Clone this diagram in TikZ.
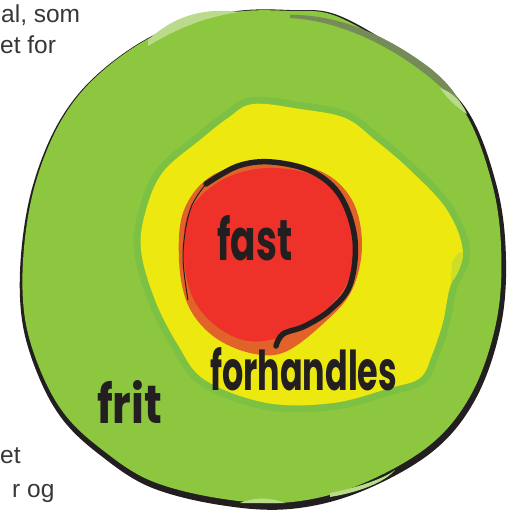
\documentclass[tikz,border=0pt]{standalone}
\usepackage{graphicx}
\usepackage{fontspec}
\setmainfont{Liberation Sans}
\newfontfamily\handfont{Poppins}
\definecolor{grn}{RGB}{141,198,63}
\definecolor{grnhalo}{RGB}{124,193,68}
\definecolor{grnlight}{RGB}{186,219,140}
\definecolor{grngray}{RGB}{118,140,88}
\definecolor{ylw}{RGB}{238,232,17}
\definecolor{ylwgrn}{RGB}{205,222,40}
\definecolor{rd}{RGB}{238,49,41}
\definecolor{orng}{RGB}{226,99,42}
\definecolor{ink}{RGB}{35,31,32}
\definecolor{txt}{RGB}{55,55,55}
\newcommand\outerblob{plot[smooth cycle,tension=0.6] coordinates {(230,12) (290,10) (340,16) (413,60) (467,110) (497,187) (506,260) (500,330) (475,400) (432,452) (360,492) (290,509) (220,505) (150,487) (100,455) (63,420) (38,375) (22,320) (21,255) (33,185) (60,120) (100,72) (160,32)}}
\newcommand\yellowblob{plot[smooth cycle,tension=0.6] coordinates {(253,104) (300,109) (345,118) (375,140) (410,170) (447,210) (463,253) (450,287) (443,322) (432,355) (420,378) (390,388) (333,403) (267,403) (205,380) (178,345) (155,300) (141,250) (146,210) (163,172) (200,140) (228,118)}}
\tikzset{
  bodytext/.style={anchor=base west, inner sep=0pt, text=txt, font=\fontsize{24.5}{28}\selectfont},
  handtext/.style={anchor=base west, inner sep=0pt, text=ink}
}
\begin{document}
\begin{tikzpicture}[x=1pt,y=-1pt]
\useasboundingbox (0,0) rectangle (509,512);
\fill[white] (0,0) rectangle (509,512);
% outer circle
\fill[ink] \outerblob;
\begin{scope}[shift={(262,262)},scale=0.985,shift={(-263,-265)}]
  \fill[grn] \outerblob;
\end{scope}
% highlights on the rim
\fill[grnlight] (148,40) .. controls (172,18) and (200,7) .. (240,12) .. controls (205,17) and (178,28) .. (148,46) -- cycle;
\fill[grngray] (290,15) .. controls (330,14) and (380,30) .. (430,68) .. controls (445,80) and (455,92) .. (462,105) .. controls (450,95) and (440,86) .. (428,76) .. controls (380,38) and (330,20) .. (290,18) -- cycle;
\fill[grnlight] (440,88) .. controls (452,92) and (462,102) .. (467,114) .. controls (458,108) and (448,100) .. (440,88) -- cycle;
\fill[grnlight] (240,503) .. controls (255,497) and (270,497) .. (285,503) -- cycle;
\fill[grnlight] (330,493) .. controls (360,487) and (385,478) .. (395,470) .. controls (385,482) and (360,492) .. (330,497) -- cycle;
% yellow zone
\draw[grnhalo, line width=14pt, line join=round] \yellowblob;
\fill[ylw] \yellowblob;
\fill[ylwgrn] (452,262) .. controls (456,255) and (460,250) .. (463,253) .. controls (462,265) and (458,275) .. (451,283) -- cycle;
% red zone
\fill[orng] plot[smooth cycle,tension=0.6] coordinates {(265,163) (320,171) (352,200) (362,245) (352,290) (325,322) (285,352) (250,353) (213,336) (188,305) (179,260) (184,210) (213,175)};
\fill[rd] plot[smooth cycle,tension=0.6] coordinates {(268,168) (318,177) (347,205) (354,245) (346,285) (320,314) (283,336) (248,341) (216,326) (193,298) (184,258) (189,212) (222,180)};
\draw[ink, line width=5.5pt, line cap=round] plot[smooth,tension=0.6] coordinates {(206,184) (238,166) (272,162) (313,172) (341,197) (355,240) (350,285) (330,310) (305,326) (283,334) (276,346)};
\draw[ink, line width=1pt] plot[smooth,tension=0.6] coordinates {(206,184) (190,210) (183,255) (188,300)};
% labels
\node[handtext] (fast) at (217,260) {\resizebox{75pt}{45pt}{\handfont\bfseries fast}};
\node[handtext] (forh) at (210,390) {\resizebox{187pt}{43pt}{\handfont\bfseries forhandles}};
\node[handtext] (frit) at (97,423) {\resizebox{65pt}{43pt}{\handfont\bfseries frit}};
% surrounding body text
\node[bodytext] (t1) at (1,22) {al, som};
\node[bodytext] (t2) at (0,53) {et for};
\node[bodytext] (t3) at (0,463) {et};
\node[bodytext] (t4) at (12,497) {r og};
\end{tikzpicture}
\end{document}
